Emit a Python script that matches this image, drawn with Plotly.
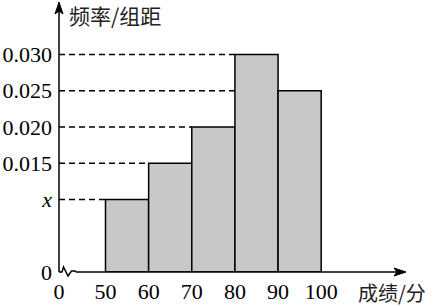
import plotly.graph_objects as go

# ---- data ----
bin_edges = [50, 60, 70, 80, 90, 100]
freq_per_width = [0.010, 0.015, 0.020, 0.030, 0.025]
x_tick_labels = ["0", "50", "60", "70", "80", "90", "100"]
y_tick_values = [0, 0.010, 0.015, 0.020, 0.025, 0.030]
y_tick_labels = ["0", "<i>x</i>", "0.015", "0.020", "0.025", "0.030"]
y_title = "频率/组距"
x_title = "成绩/分"

# ---- geometry ----
W, H = 434, 308
L, R, T, B = 59, 405, 3, 272
kx = 4.314           # px per x unit
ky = 7250.0          # px per y unit
x_start = 50 - (105.5 - L) / kx
x_end = x_start + (R - L) / kx
y_top = (B - T) / ky

def px(p):
    return (p - L) / (R - L)

def py(p):
    return (B - p) / (B - T)

centers = [(a + b) / 2 for a, b in zip(bin_edges[:-1], bin_edges[1:])]
widths = [b - a for a, b in zip(bin_edges[:-1], bin_edges[1:])]

fig = go.Figure()
fig.add_trace(go.Bar(
    x=centers, y=freq_per_width, width=widths,
    marker=dict(color="#c8c8c8", line=dict(color="black", width=1.5)),
    hoverinfo="skip",
))

shapes = []
# dashed reference lines from the y-axis to each bar's left edge
for left, v in zip(bin_edges[:-1], freq_per_width):
    shapes.append(dict(type="line", xref="x", yref="y", x0=x_start, x1=left,
                       y0=v, y1=v, layer="below",
                       line=dict(color="black", width=1.4, dash="6px,4px")))

blk = dict(color="black", width=1.5)
# y axis line
shapes.append(dict(type="line", xref="paper", yref="paper",
                   x0=0, x1=0, y0=py(B), y1=py(T + 8), line=blk))
# y arrow head
shapes.append(dict(type="path", xref="paper", yref="paper",
                   path=f"M {px(L)},{py(T-1)} L {px(L-4)},{py(T+11)} L {px(L)},{py(T+8)} L {px(L+4)},{py(T+11)} Z",
                   fillcolor="black", line=dict(color="black", width=1)))
# x axis zigzag + line
zig = [(L, B), (62, B), (63.5, B - 5), (68, B + 4), (71.5, B - 1), (75, B - 1), (76, B)]
zpath = "M " + " L ".join(f"{px(a)},{py(b)}" for a, b in zig)
shapes.append(dict(type="path", xref="paper", yref="paper", path=zpath, line=blk))
shapes.append(dict(type="line", xref="paper", yref="paper",
                   x0=px(76), x1=px(R - 8), y0=py(B), y1=py(B), line=blk))
# x arrow head
shapes.append(dict(type="path", xref="paper", yref="paper",
                   path=f"M {px(R+1)},{py(B)} L {px(R-11)},{py(B-4)} L {px(R-8)},{py(B)} L {px(R-11)},{py(B+4)} Z",
                   fillcolor="black", line=dict(color="black", width=1)))

tick_font = dict(family="Liberation Serif", size=22, color="black")
cjk_font = dict(family="Noto Sans CJK SC", size=20, color="#222")

fig.update_layout(
    width=W, height=H,
    margin=dict(l=L, r=W - R, t=T, b=H - B),
    paper_bgcolor="white", plot_bgcolor="white",
    showlegend=False,
    shapes=shapes,
    xaxis=dict(range=[x_start, x_end], showgrid=False, zeroline=False, showline=False,
               tickmode="array", tickvals=[x_start] + bin_edges, ticktext=x_tick_labels,
               ticks="", tickfont=tick_font, ticklabelstandoff=4, fixedrange=True),
    yaxis=dict(range=[0, y_top], showgrid=False, zeroline=False, showline=False,
               tickmode="array", tickvals=y_tick_values, ticktext=y_tick_labels,
               ticks="", tickfont=tick_font, ticklabelstandoff=6, fixedrange=True),
    annotations=[
        dict(text=y_title, xref="paper", yref="paper", x=px(67), y=py(15),
             xanchor="left", yanchor="middle", showarrow=False, font=dict(cjk_font, size=21)),
        dict(text=x_title, xref="paper", yref="paper", x=px(427), y=py(292),
             xanchor="right", yanchor="middle", showarrow=False, font=cjk_font,
             borderpad=0),
    ],
)

fig.write_html("out.html")
